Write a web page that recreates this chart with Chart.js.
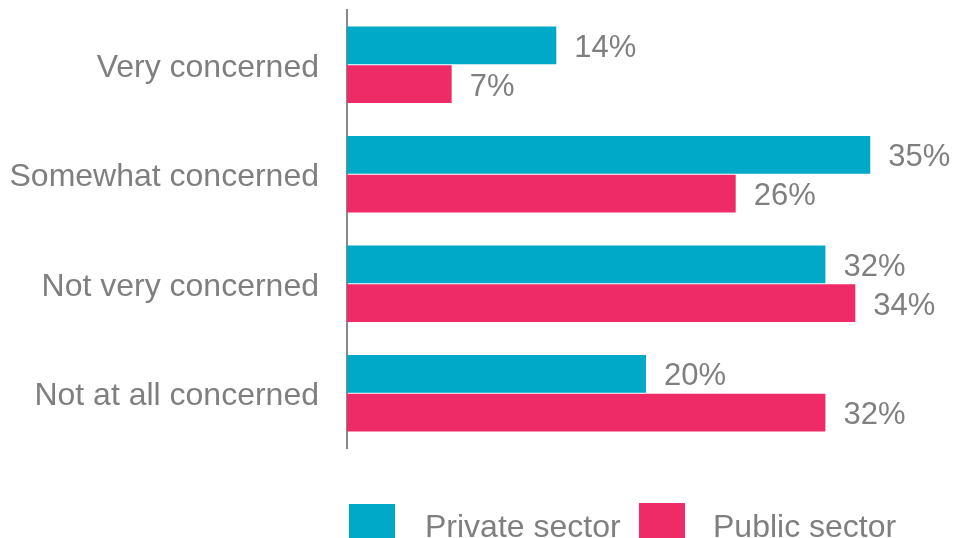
<!DOCTYPE html>
<html>
<head>
<meta charset="utf-8">
<script src="https://cdn.jsdelivr.net/npm/chart.js@4.4.1/dist/chart.umd.min.js"></script>
<style>
  html, body { margin: 0; padding: 0; background: #fff; }
  #wrap { width: 955px; height: 538px; position: relative; }
</style>
</head>
<body>
<div id="wrap"><canvas id="chart"></canvas></div>
<script>
// concern levels by sector
const categories = ["Very concerned", "Somewhat concerned", "Not very concerned", "Not at all concerned"];
const privateSector = [14, 35, 32, 20];
const publicSector = [7, 26, 34, 32];
const seriesNames = ["Private sector", "Public sector"];

const TEAL = '#00a9c8';
const PINK = '#ee2b67';
const GREY = '#7f7f7f';
const FONT = '"Liberation Sans", Arial, sans-serif';

// value labels at the end of each bar
const valueLabels = {
  id: 'valueLabels',
  afterDatasetsDraw(chart) {
    const ctx = chart.ctx;
    ctx.save();
    ctx.font = '31px ' + FONT;
    ctx.fillStyle = GREY;
    ctx.textBaseline = 'middle';
    ctx.textAlign = 'left';
    chart.data.datasets.forEach((ds, i) => {
      chart.getDatasetMeta(i).data.forEach((bar, j) => {
        ctx.fillText(ds.data[j] + '%', bar.x + 18, bar.y + 3);
      });
    });
    ctx.restore();
  }
};

// legend drawn by hand so it sits where the original does
const customLegend = {
  id: 'customLegend',
  afterDraw(chart) {
    const ctx = chart.ctx;
    const items = [
      { box: 349, text: 425, top: 504 },
      { box: 639, text: 713, top: 503 }
    ];
    ctx.save();
    ctx.font = '32px ' + FONT;
    ctx.textBaseline = 'alphabetic';
    chart.data.datasets.forEach((ds, i) => {
      const it = items[i];
      ctx.fillStyle = ds.backgroundColor;
      ctx.fillRect(it.box, it.top, 46, 40);
      ctx.fillStyle = GREY;
      ctx.fillText(ds.label, it.text, 537);
    });
    ctx.restore();
  }
};

const ctx = document.getElementById('chart').getContext('2d');
new Chart(ctx, {
  type: 'bar',
  data: {
    labels: categories,
    datasets: [
      { label: seriesNames[0], data: privateSector, backgroundColor: TEAL,
        categoryPercentage: 0.71, barPercentage: 0.97 },
      { label: seriesNames[1], data: publicSector, backgroundColor: PINK,
        categoryPercentage: 0.71, barPercentage: 0.97 }
    ]
  },
  options: {
    indexAxis: 'y',
    responsive: true,
    maintainAspectRatio: false,
    animation: false,
    layout: { padding: { top: 10, right: 10, bottom: 90, left: 0 } },
    scales: {
      x: {
        display: false,
        min: 0,
        max: 40
      },
      y: {
        afterFit(scale) {
          scale.width = 347;
          scale.paddingTop = 0;
          scale.paddingBottom = 0;
        },
        grid: { display: false },
        border: { display: true, color: '#888888', width: 2 },
        ticks: {
          padding: 20,
          labelOffset: 3,
          color: GREY,
          font: { family: FONT, size: 32 }
        }
      }
    },
    plugins: {
      legend: { display: false },
      tooltip: { enabled: false }
    }
  },
  plugins: [valueLabels, customLegend]
});
</script>
</body>
</html>
